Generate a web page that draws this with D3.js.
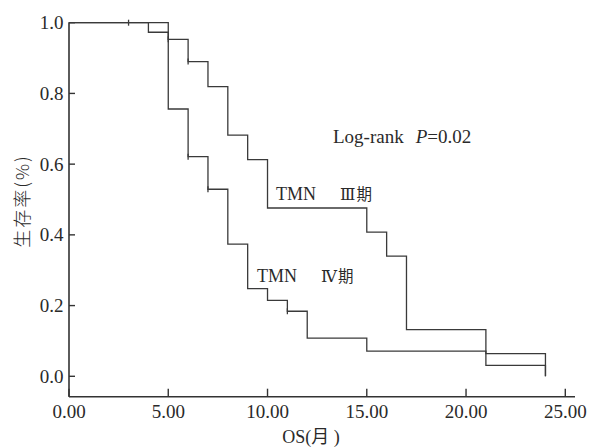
<!DOCTYPE html>
<html><head><meta charset="utf-8">
<script src="https://cdn.jsdelivr.net/npm/d3@7"></script>
<style>
body{margin:0;background:#fff;}
text{fill:#2a2a2a;}
</style></head>
<body><svg id="c" width="591" height="447"></svg>
<script>
const xTicks = [0,5,10,15,20,25];
const yTicks = [0,0.2,0.4,0.6,0.8,1.0];
const timesIII = [0,5,6,7,8,9,10,15,16,17,21,24];
const survIII  = [1,0.953,0.890,0.819,0.682,0.613,0.476,0.408,0.340,0.132,0.064,0];
const timesIV  = [0,4,5,6,7,8,9,10,11,12,15,21,24];
const survIV   = [1,0.973,0.756,0.621,0.529,0.374,0.248,0.215,0.184,0.108,0.071,0.031,0];
const censorIII = [[5,0.953],[6,0.890]];
const censorIV  = [[3,1.0],[6,0.621],[7,0.529],[11,0.184]];
const labelIII = ["TMN","Ⅲ","期"];
const labelIV  = ["TMN","Ⅳ","期"];
const statText = "Log-rank";
const xTitle = "OS(月 )", yTitle = "生存率(%)";

const svg = d3.select("#c");
const x = d3.scaleLinear().domain([0,25]).range([69,565.3]);
const y = d3.scaleLinear().domain([0,1]).range([376.3,22.7]);
const axisY = 396.7;
const serif = "'Liberation Serif','DejaVu Serif',serif";
const col = "#333";

// axes lines
svg.append("line").attr("x1",x(0)).attr("x2",575).attr("y1",axisY).attr("y2",axisY)
  .attr("stroke",col).attr("stroke-width",1.6);
svg.append("line").attr("x1",x(0)).attr("x2",x(0)).attr("y1",y(1)-0.5).attr("y2",axisY)
  .attr("stroke",col).attr("stroke-width",1.6);

// x ticks
const xa = svg.append("g");
xTicks.forEach(t=>{
  xa.append("line").attr("x1",x(t)).attr("x2",x(t)).attr("y1",axisY).attr("y2",axisY-8)
    .attr("stroke",col).attr("stroke-width",1.4);
  xa.append("text").attr("x",x(t)).attr("y",418).attr("text-anchor","middle")
    .attr("font-family",serif).attr("font-size",19).text(d3.format(".2f")(t));
});
// y ticks
yTicks.forEach(t=>{
  xa.append("line").attr("x1",x(0)).attr("x2",x(0)+6).attr("y1",y(t)).attr("y2",y(t))
    .attr("stroke",col).attr("stroke-width",1.4);
  xa.append("text").attr("x",63.5).attr("y",y(t)).attr("dy","0.34em").attr("text-anchor","end")
    .attr("font-family",serif).attr("font-size",19).text(d3.format(".1f")(t));
});

// curves
const line = d3.line().x(d=>x(d[0])).y(d=>y(d[1])).curve(d3.curveStepAfter);
function curve(times, surv){
  const pts = times.map((t,i)=>[t,surv[i]]);
  svg.append("path").attr("d",line(pts)).attr("fill","none")
    .attr("stroke","#3a3a3a").attr("stroke-width",1.3);
}
curve(timesIII, survIII);
curve(timesIV, survIV);
censorIII.concat(censorIV).forEach(c=>{
  svg.append("line").attr("x1",x(c[0])).attr("x2",x(c[0])).attr("y1",y(c[1])-3).attr("y2",y(c[1])+3)
    .attr("stroke","#3a3a3a").attr("stroke-width",1.3);
});

// labels
function stageLabel(xs, xr, yb, parts){
  const t = svg.append("text").attr("x",xs).attr("y",yb).attr("font-family",serif).attr("font-size",18);
  t.append("tspan").text(parts[0]);
  t.append("tspan").attr("x",xr).attr("font-family","'DejaVu Serif',serif").attr("font-size",16).text(parts[1]);
  t.append("tspan").attr("dx",1).attr("font-family","'Noto Sans CJK SC'").attr("font-size",15.5).text(parts[2]);
}
stageLabel(276, 340, 200, labelIII);
stageLabel(257, 321, 281.5, labelIV);

const st = svg.append("text").attr("x",333).attr("y",143).attr("font-family",serif).attr("font-size",19);
st.append("tspan").text(statText);
st.append("tspan").attr("dx",12).attr("font-style","italic").text("P");
st.append("tspan").text("=0.02");

svg.append("text").attr("x",311).attr("y",443).attr("text-anchor","middle")
  .attr("font-family",serif+",'Noto Sans CJK SC'").attr("font-size",18).text(xTitle);
svg.append("text").attr("transform","translate(29,201) rotate(-90)").attr("text-anchor","middle")
  .attr("font-family","'Noto Sans CJK SC'").attr("font-weight",300).attr("font-size",18)
  .attr("letter-spacing",2).attr("fill","#444").text(yTitle);
</script></body></html>
